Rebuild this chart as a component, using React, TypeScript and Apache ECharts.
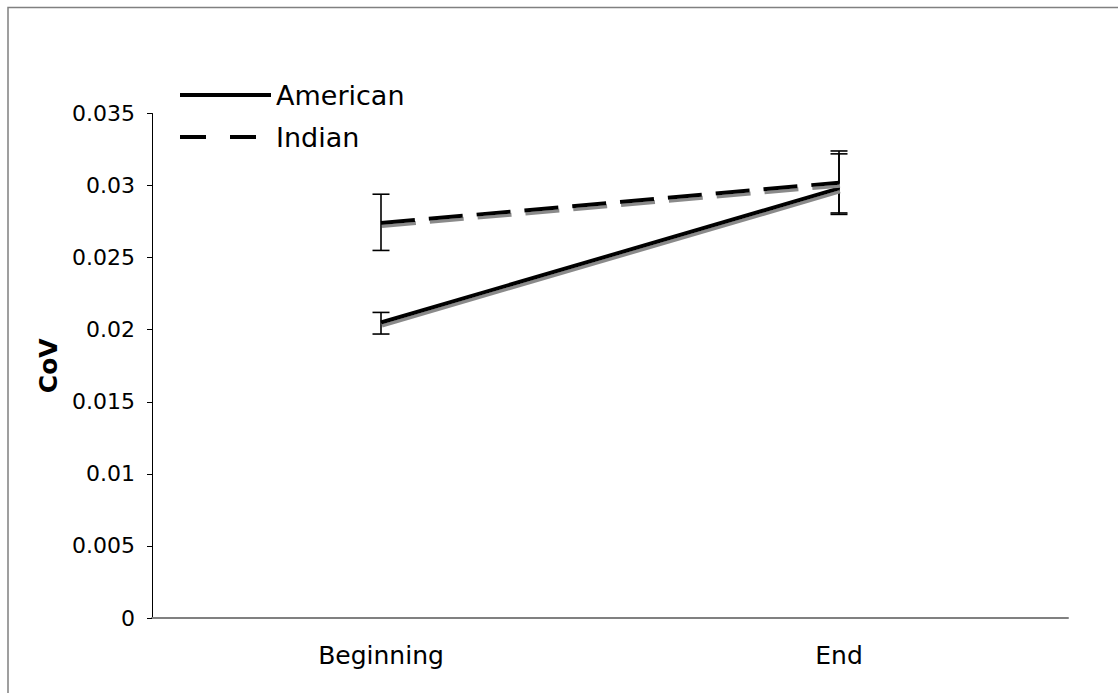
import { useEffect, useRef } from 'react';
import * as echarts from 'echarts';

const categories = ['Beginning', 'End'];
const americanValues = [0.0205, 0.0298];
const indianValues = [0.0274, 0.0302];
const americanLow = [0.0197, 0.028];
const americanHigh = [0.0212, 0.0322];
const indianLow = [0.0255, 0.0281];
const indianHigh = [0.0294, 0.0324];

const FONT = '"DejaVu Sans", Verdana, sans-serif';

export default function App() {
  const chartRef = useRef<HTMLDivElement>(null);

  useEffect(() => {
    document.body.style.margin = '0';
    if (!chartRef.current) return;
    const chart = echarts.init(chartRef.current, undefined, { renderer: 'svg' });

    // error bar rows: [category index, low, high]
    const errorData = [
      ...categories.map((_, i) => [i, americanLow[i], americanHigh[i]]),
      ...categories.map((_, i) => [i, indianLow[i], indianHigh[i]]),
    ];

    const shadow = {
      shadowColor: '#8a8a8a',
      shadowOffsetX: 1,
      shadowOffsetY: 3,
      shadowBlur: 0,
    };

    const option: echarts.EChartsOption = {
      animation: false,
      textStyle: { fontFamily: FONT, color: '#000' },
      graphic: [
        {
          type: 'rect',
          shape: { x: 8, y: 7.5, width: 1300, height: 900 },
          style: { fill: 'none', stroke: '#808080', lineWidth: 1.5 },
          silent: true,
        },
      ],
      grid: { left: 152, right: 50, top: 113.5, bottom: 75 },
      legend: {
        orient: 'vertical',
        left: 173,
        top: 75,
        itemWidth: 91,
        itemHeight: 14,
        itemGap: 12,
        data: [
          { name: 'American', lineStyle: { type: 'solid' } },
          { name: 'Indian', lineStyle: { type: [26, 24] } },
        ],
        itemStyle: { opacity: 0 },
        lineStyle: { width: 4, shadowColor: 'transparent' },
        textStyle: { fontSize: 27, fontFamily: FONT, color: '#000', lineHeight: 30 },
      },
      xAxis: {
        type: 'category',
        data: categories,
        boundaryGap: true,
        axisLine: { lineStyle: { color: '#808080', width: 2 } },
        axisTick: { length: 8, lineStyle: { color: '#808080', width: 1 } },
        axisLabel: { fontSize: 25, color: '#000', margin: 25, fontFamily: FONT },
        splitLine: { show: false },
      },
      yAxis: {
        type: 'value',
        min: 0,
        max: 0.035,
        interval: 0.005,
        name: 'CoV',
        nameLocation: 'middle',
        nameGap: 90,
        nameTextStyle: { fontSize: 25, fontWeight: 'bold', color: '#000', fontFamily: FONT },
        axisLine: { show: true, lineStyle: { color: '#000', width: 1 } },
        axisTick: { show: true, length: 5, lineStyle: { color: '#000' } },
        axisLabel: { fontSize: 22, color: '#000', margin: 17, fontFamily: FONT },
        splitLine: { show: false },
      },
      series: [
        {
          name: 'American',
          type: 'line',
          data: americanValues,
          symbol: 'none',
          itemStyle: { color: '#000' },
          lineStyle: { color: '#000', width: 4, type: 'solid', ...shadow },
        },
        {
          name: 'Indian',
          type: 'line',
          data: indianValues,
          symbol: 'none',
          itemStyle: { color: '#000' },
          lineStyle: { color: '#000', width: 4, type: [34, 14], ...shadow },
        },
        {
          type: 'custom',
          data: errorData,
          z: 3,
          renderItem: (params: any, api: any) => {
            const x = api.value(0);
            const top = api.coord([x, api.value(2)]);
            const bottom = api.coord([x, api.value(1)]);
            const half = 8.5;
            const style = { stroke: '#000', lineWidth: 1.6 };
            return {
              type: 'group',
              children: [
                { type: 'line', shape: { x1: top[0], y1: top[1], x2: bottom[0], y2: bottom[1] }, style },
                { type: 'line', shape: { x1: top[0] - half, y1: top[1], x2: top[0] + half, y2: top[1] }, style },
                { type: 'line', shape: { x1: bottom[0] - half, y1: bottom[1], x2: bottom[0] + half, y2: bottom[1] }, style },
              ],
            };
          },
        },
      ],
    };

    chart.setOption(option);

    const handleResize = () => chart.resize();
    window.addEventListener('resize', handleResize);

    return () => {
      window.removeEventListener('resize', handleResize);
      chart.dispose();
    };
  }, []);

  return <div ref={chartRef} style={{ width: '1118px', height: '693px', overflow: 'hidden' }} />;
}
